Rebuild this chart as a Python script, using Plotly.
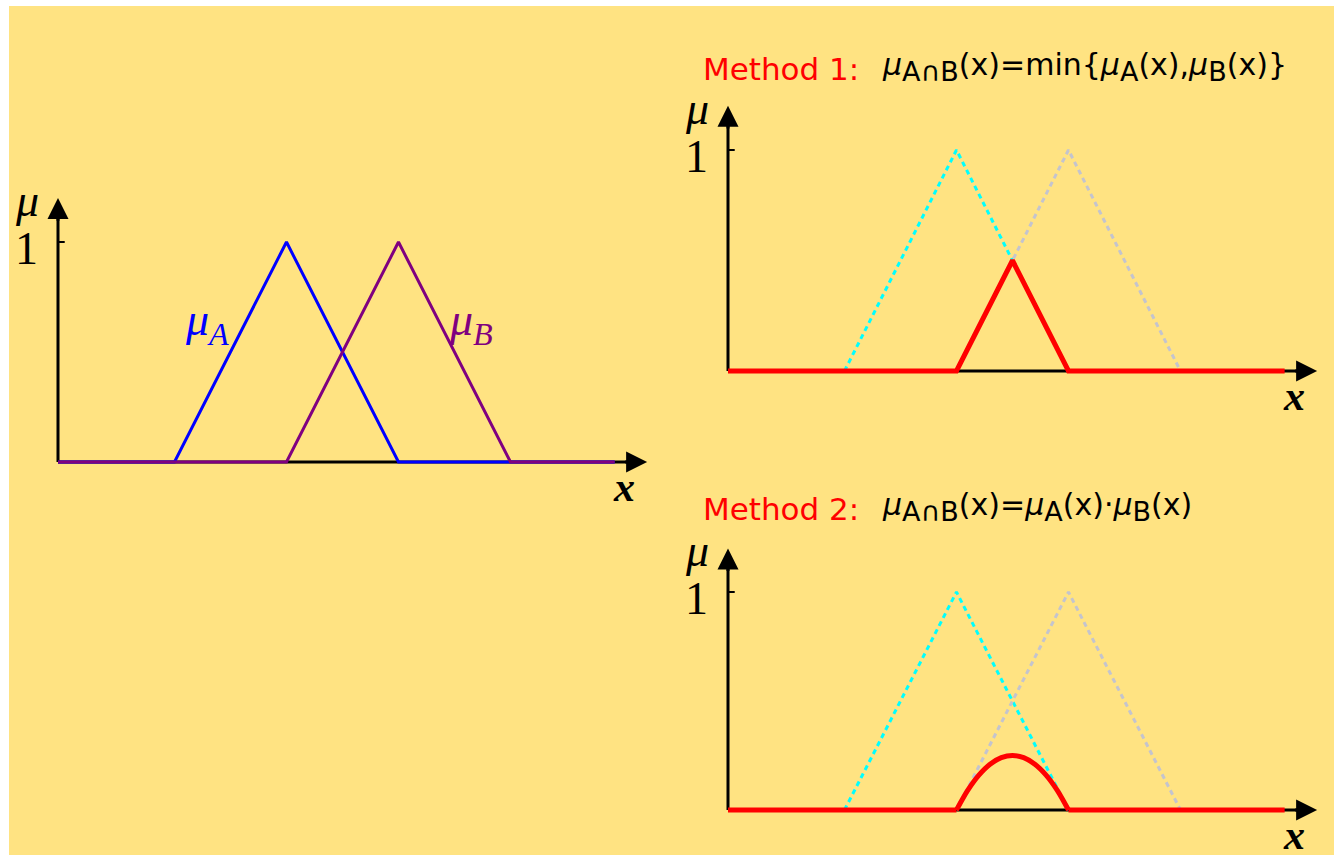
import plotly.graph_objects as go

# ---------------- data (x in units along the universe of discourse) ----------------
x_start, x_end = 0.0, 4.97
A_x = [1.04, 2.04, 3.04]          # triangle A: foot, peak, foot
A_y = [0, 1, 0]
B_x = [2.04, 3.04, 4.04]          # triangle B
B_y = [0, 1, 0]
min_x = [0.0, 2.04, 2.54, 3.04, 4.97]     # Method 1: min(muA, muB)
min_y = [0, 0, 0.5, 0, 0]
flat_x = [0.0, 2.04, None, 3.04, 4.97]    # Method 2: zero parts
flat_y = [0, 0, None, 0, 0]
arch_x = [2.04, 2.14, 2.24, 2.34, 2.44, 2.54, 2.64, 2.74, 2.84, 2.94, 3.04]  # Method 2: product arch
arch_y = [0, 0.09, 0.16, 0.21, 0.24, 0.25, 0.24, 0.21, 0.16, 0.09, 0]
tick_vals = [1]
tick_text = ["1"]

# ---------------- layout geometry ----------------
W, H = 1334, 856
SX = 112
XR = [-0.4, 5.4]
YR = [-0.2, 1.45]
panels = {"": (58, 462, 220), "2": (728, 371, 221), "3": (728, 810, 218)}

BG = "#FFE382"
BLUE = "#0000FF"
PURPLE = "#800080"
RED = "#FF0000"
CYAN = "#00FFFF"
GRAY = "#C4C4CE"
SERIF = "Liberation Serif"
SANS = "DejaVu Sans"

fig = go.Figure()
layout = dict(width=W, height=H, margin=dict(l=0, r=0, t=0, b=0), autosize=False,
              paper_bgcolor="white", plot_bgcolor="rgba(0,0,0,0)", showlegend=False)
shapes = [dict(type="rect", xref="paper", yref="paper", x0=9 / W, x1=1, y0=1 - 855 / H, y1=1 - 6 / H,
               fillcolor=BG, line=dict(width=0), layer="below")]
annotations = []

for key, (ox, oy, sy) in panels.items():
    xd = [(ox + XR[0] * SX) / W, (ox + XR[1] * SX) / W]
    yd = [1 - (oy - YR[0] * sy) / H, 1 - (oy - YR[1] * sy) / H]
    layout["xaxis" + key] = dict(domain=xd, range=XR, visible=False, fixedrange=True, anchor="y" + key)
    layout["yaxis" + key] = dict(domain=yd, range=YR, visible=False, fixedrange=True, anchor="x" + key)
    xr, yr = "x" + key, "y" + key
    # axis lines (below traces)
    shapes.append(dict(type="line", xref=xr, yref=yr, x0=0, x1=5.1, y0=0, y1=0,
                       line=dict(color="black", width=3), layer="below"))
    shapes.append(dict(type="line", xref=xr, yref=yr, x0=0, x1=0, y0=0, y1=1.12,
                       line=dict(color="black", width=3), layer="below"))
    for tv, tt in zip(tick_vals, tick_text):
        shapes.append(dict(type="line", xref=xr, yref=yr, x0=0, x1=0.06, y0=tv, y1=tv,
                           line=dict(color="black", width=2), layer="below"))
        annotations.append(dict(x=-0.28, y=tv - 0.03, xref=xr, yref=yr, text=tt,
                                showarrow=False, font=dict(family=SERIF, size=46, color="black")))
    # arrow heads
    annotations.append(dict(x=5.26, y=0, ax=5.05, ay=0, xref=xr, yref=yr, axref=xr, ayref=yr, text="",
                            showarrow=True, arrowhead=2, arrowsize=1.4, arrowwidth=3, arrowcolor="black",
                            standoff=0, startstandoff=0))
    annotations.append(dict(x=0, y=1.2, ax=0, ay=1.09, xref=xr, yref=yr, axref=xr, ayref=yr, text="",
                            showarrow=True, arrowhead=2, arrowsize=1.4, arrowwidth=3, arrowcolor="black",
                            standoff=0, startstandoff=0))
    # axis labels
    annotations.append(dict(x=-0.28, y=1.19, xref=xr, yref=yr, text="<i>μ</i>", showarrow=False,
                            font=dict(family=SERIF, size=46, color="black")))
    annotations.append(dict(x=5.05, y=-0.115, xref=xr, yref=yr, text="<i><b>x</b></i>", showarrow=False,
                            font=dict(family=SERIF, size=42, color="black")))

# ---------------- left panel ----------------
fig.add_trace(go.Scatter(x=[x_start] + A_x + [x_end], y=[0] + A_y + [0], mode="lines",
                         line=dict(color=BLUE, width=3), xaxis="x", yaxis="y", hoverinfo="skip"))
fig.add_trace(go.Scatter(x=[x_start] + B_x + [x_end], y=[0] + B_y + [0], mode="lines",
                         line=dict(color=PURPLE, width=3), xaxis="x", yaxis="y", hoverinfo="skip"))
annotations.append(dict(x=1.33, y=0.63, xref="x", yref="y", text="<i>μ<sub>A</sub></i>", showarrow=False,
                        font=dict(family=SERIF, size=46, color=BLUE)))
annotations.append(dict(x=3.69, y=0.63, xref="x", yref="y", text="<i>μ<sub>B</sub></i>", showarrow=False,
                        font=dict(family=SERIF, size=46, color=PURPLE)))

# ---------------- right panels ----------------
for key in ["2", "3"]:
    fig.add_trace(go.Scatter(x=A_x, y=A_y, mode="lines", line=dict(color=CYAN, width=3, dash="5px,4px"),
                             xaxis="x" + key, yaxis="y" + key, hoverinfo="skip"))
    fig.add_trace(go.Scatter(x=B_x, y=B_y, mode="lines", line=dict(color=GRAY, width=3, dash="5px,4px"),
                             xaxis="x" + key, yaxis="y" + key, hoverinfo="skip"))
fig.add_trace(go.Scatter(x=min_x, y=min_y, mode="lines", line=dict(color=RED, width=5),
                         xaxis="x2", yaxis="y2", hoverinfo="skip"))
fig.add_trace(go.Scatter(x=flat_x, y=flat_y, mode="lines", line=dict(color=RED, width=5),
                         xaxis="x3", yaxis="y3", hoverinfo="skip"))
fig.add_trace(go.Scatter(x=arch_x, y=arch_y, mode="lines", line=dict(color=RED, width=5, shape="spline", smoothing=0.8),
                         xaxis="x3", yaxis="y3", hoverinfo="skip"))

# ---------------- titles ----------------
S = '<span style="font-size:27px">'
titles = [("Method 1:", "<i>μ</i><sub>" + S + "A∩B</span></sub>(x)=min{<i>μ</i><sub>" + S + "A</span></sub>(x),<i>μ</i><sub>" + S + "B</span></sub>(x)}", 69),
          ("Method 2:", "<i>μ</i><sub>" + S + "A∩B</span></sub>(x)=<i>μ</i><sub>" + S + "A</span></sub>(x)·<i>μ</i><sub>" + S + "B</span></sub>(x)", 509)]
for lab, formula, ypx in titles:
    annotations.append(dict(x=701 / W, y=1 - ypx / H, xref="paper", yref="paper", xanchor="left", yanchor="middle",
                            text=lab, showarrow=False, font=dict(family=SANS, size=31, color=RED)))
    annotations.append(dict(x=880 / W, y=1 - (ypx - 2) / H, xref="paper", yref="paper", xanchor="left", yanchor="middle",
                            text=formula, showarrow=False, font=dict(family=SANS, size=30, color="black")))

layout["shapes"] = shapes
layout["annotations"] = annotations
fig.update_layout(**layout)
fig.write_html("out.html", config={"displayModeBar": False},
               post_script="document.body.style.margin='0';document.body.style.padding='0';")
